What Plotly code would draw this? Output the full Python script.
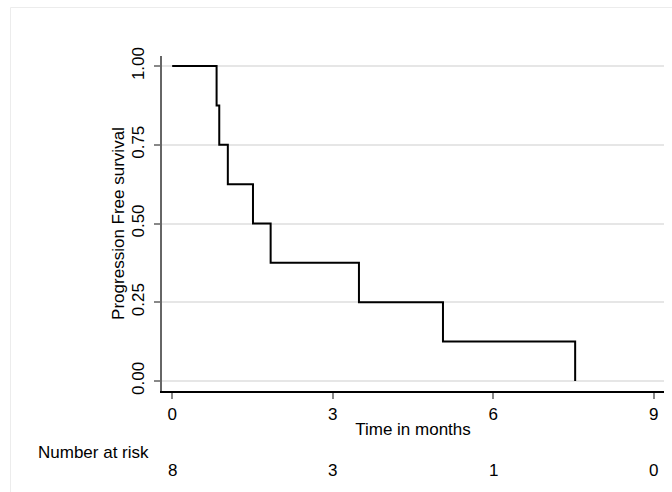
import plotly.graph_objects as go

# Kaplan-Meier step data
event_times = [0, 0.83, 0.88, 1.04, 1.51, 1.84, 3.49, 5.06, 7.53]
survival = [1.0, 0.875, 0.75, 0.625, 0.5, 0.375, 0.25, 0.125, 0.0]

# Number at risk table
risk_times = [0, 3, 6, 9]
risk_counts = [8, 3, 1, 0]

x_ticks = [0, 3, 6, 9]
y_ticks = [0.0, 0.25, 0.5, 0.75, 1.0]

W, H = 672, 492
L, R, T, B = 162, 8, 56, 101
pw, ph = W - L - R, H - T - B

FONT = "Liberation Sans, Arial, sans-serif"

fig = go.Figure()
fig.add_trace(go.Scatter(
    x=event_times, y=survival, mode="lines", line_shape="hv",
    line=dict(color="black", width=2), showlegend=False, hoverinfo="skip"))

fig.update_layout(
    width=W, height=H,
    margin=dict(l=L, r=R, t=T, b=B, pad=0),
    paper_bgcolor="white", plot_bgcolor="white",
    font=dict(family=FONT, size=17, color="black"),
    showlegend=False,
)

fig.update_xaxes(
    range=[-0.19, 9.19], tickvals=x_ticks, ticktext=[str(v) for v in x_ticks],
    showgrid=False, zeroline=False,
    showline=True, linecolor="black", linewidth=1.5,
    ticks="outside", ticklen=6, tickcolor="#888888", tickwidth=1.5,
    tickfont=dict(size=17, family=FONT),
    ticklabelstandoff=1,
    title=dict(text="Time in months", font=dict(size=17, family=FONT), standoff=0),
)
fig.update_yaxes(
    range=[-0.032, 1.032], tickvals=y_ticks, tickformat=".2f",
    tickangle=-90,
    showgrid=True, gridcolor="#e6e6e6", gridwidth=1.5, zeroline=False,
    showline=True, linecolor="#666666", linewidth=1.5,
    ticks="outside", ticklen=6, tickcolor="#888888", tickwidth=1.5,
    tickfont=dict(size=17, family=FONT),
    ticklabelstandoff=3,
    title=dict(text="Progression Free survival", font=dict(size=17, family=FONT), standoff=1),
)

# faint outer frame
def px_x(v):
    return (v - L) / pw

def px_y(v):
    return (H - B - v) / ph

fig.add_shape(type="rect", xref="paper", yref="paper",
              x0=px_x(10.5), x1=px_x(690), y0=px_y(7.5), y1=px_y(510),
              line=dict(color="#ececec", width=1), fillcolor="rgba(0,0,0,0)", layer="below")

fig.add_annotation(text="Number at risk", xref="paper", yref="paper",
                   x=px_x(93), y=px_y(452), showarrow=False,
                   xanchor="center", yanchor="middle", font=dict(size=17, family=FONT))
for t, n in zip(risk_times, risk_counts):
    fig.add_annotation(text=str(n), xref="x", yref="paper", x=t, y=px_y(470),
                       showarrow=False, xanchor="center", yanchor="middle",
                       font=dict(size=17, family=FONT))

fig.write_html("out.html")
